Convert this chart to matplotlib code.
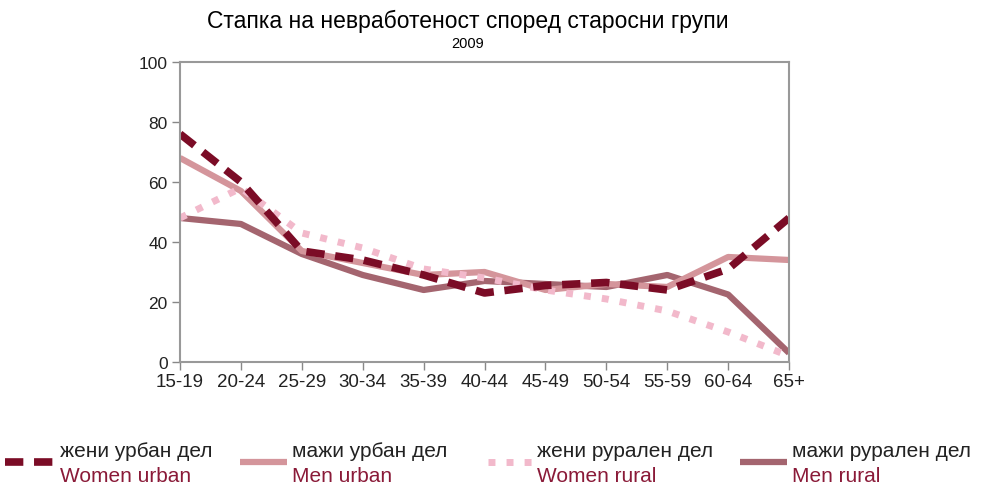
import matplotlib
matplotlib.use("Agg")
import matplotlib.pyplot as plt
from matplotlib.lines import Line2D

plt.rcParams['font.family'] = ['Liberation Sans', 'DejaVu Sans']

# Старосни групи
groups = ["15-19", "20-24", "25-29", "30-34", "35-39", "40-44",
          "45-49", "50-54", "55-59", "60-64", "65+"]

women_urban = [76, 60, 37, 34, 29, 23, 25.5, 26.5, 24, 31, 48]
men_urban = [68, 57, 37, 33, 29, 30, 24, 26, 25, 35, 34]
women_rural = [48, 58, 43, 38, 31, 28, 24, 21, 17, 10, 2]
men_rural = [48, 46, 36, 29, 24, 27, 26, 25, 29, 22.5, 3]

labels_mk = ["жени урбан дел", "мажи урбан дел", "жени рурален дел", "мажи рурален дел"]
labels_en = ["Women urban", "Men urban", "Women rural", "Men rural"]

c_wu = "#7b0c26"
c_mu = "#d4959b"
c_wr = "#f2b9cb"
c_mr = "#a4656f"
en_color = "#8a1a38"

fig = plt.figure(figsize=(9.93, 4.89), dpi=100)
ax = fig.add_axes([0.1813, 0.2577, 0.6133, 0.6135])

x = list(range(len(groups)))
styles = [
    (men_rural, dict(color=c_mr, lw=4.5, solid_capstyle='butt')),
    (men_urban, dict(color=c_mu, lw=4.5, solid_capstyle='butt')),
    (women_rural, dict(color=c_wr, lw=5, linestyle=(0, (1, 1.6)), dash_capstyle='butt')),
    (women_urban, dict(color=c_wu, lw=5.5, linestyle=(0, (2.4, 1.4)), dash_capstyle='butt')),
]
for vals, kw in styles:
    ax.plot(x, vals, **kw)

ax.set_xlim(0, len(groups) - 1)
ax.set_ylim(0, 100)
ax.set_yticks([0, 20, 40, 60, 80, 100])
ax.set_xticks(x)
ax.set_xticklabels(groups)
ax.tick_params(color="#888888", length=6, width=1, pad=3, labelcolor="#222222")
ax.tick_params(axis='x', labelsize=13.5, pad=2)
ax.tick_params(axis='y', labelsize=12.5)
for s in ax.spines.values():
    s.set_color("#999999")
    s.set_linewidth(1.5)

fig.text(0.471, 1 - 21 / 489, "Стапка на невработеност според старосни групи",
         ha='center', va='center', fontsize=16.5)
fig.text(0.471, 1 - 44 / 489, "2009", ha='center', va='center', fontsize=10.5)

# Легенда
handles = [
    dict(x0=5, x1=56, color=c_wu, lw=5.5, ls=(0, (2.4, 1.4))),
    dict(x0=240, x1=287, color=c_mu, lw=4.5, ls='-'),
    dict(x0=488, x1=532, color=c_wr, lw=5, ls=(0, (1, 1.6))),
    dict(x0=740, x1=787, color=c_mr, lw=4.5, ls='-'),
]
text_x = [60, 292, 537, 792]
W, H = 993, 489
for h, tx, mk, en in zip(handles, text_x, labels_mk, labels_en):
    ln = Line2D([h['x0'] / W, h['x1'] / W], [1 - 463 / H, 1 - 463 / H],
                transform=fig.transFigure, color=h['color'], lw=h['lw'],
                linestyle=h['ls'], solid_capstyle='butt', dash_capstyle='butt')
    fig.add_artist(ln)
    fig.text(tx / W, 1 - 452 / H, mk, ha='left', va='center', fontsize=15, color="#222222")
    fig.text(tx / W, 1 - 477 / H, en, ha='left', va='center', fontsize=15, color=en_color)

fig.savefig("out.png", dpi=100, facecolor="white")
